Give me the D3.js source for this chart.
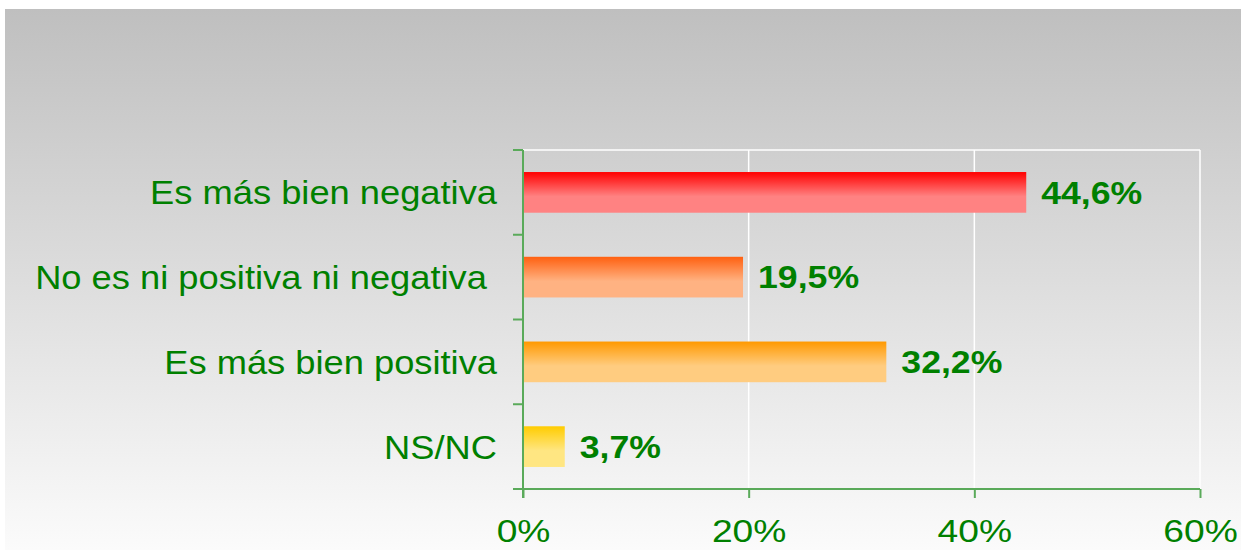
<!DOCTYPE html>
<html>
<head>
	<meta charset="utf-8">
	<title>Valoración</title>
	<script src="https://cdn.jsdelivr.net/npm/d3@7"></script>
	<style>
		body { margin: 0; background: #ffffff; }
		svg text { font-family: Arial, "Liberation Sans", sans-serif; white-space: pre; }
	</style>
</head>
<body>
	<div id="chart"></div>
	<script>

		// data
		const categories = ["Es más bien negativa", "No es ni positiva ni negativa ", "Es más bien positiva", "NS/NC"];
		const values = [44.6, 19.5, 32.2, 3.7];
		const tickValues = [0, 20, 40, 60];
		const topColors = ["#ff0000", "#ff6010", "#ff9900", "#ffcc00"];
		const bottomColors = ["#ff8282", "#ffb282", "#ffcc80", "#ffe682"];

		const width = 1241, height = 550;
		const margin = { top: 150, right: 41, bottom: 61, left: 523 };
		const green = "#008000";
		const axisGreen = "#5aaa5a";

		const svg = d3.select("#chart").append("svg")
			.attr("width", width)
			.attr("height", height);

		const defs = svg.append("defs");
		const bg = defs.append("linearGradient")
			.attr("id", "bg").attr("x1", 0).attr("y1", 0).attr("x2", 0).attr("y2", 1);
		bg.append("stop").attr("offset", "0%").attr("stop-color", "#bfbfbf");
		bg.append("stop").attr("offset", "100%").attr("stop-color", "#fbfbfb");

		topColors.forEach(function(c, i) {
			const g = defs.append("linearGradient")
				.attr("id", "bar" + i).attr("x1", 0).attr("y1", 0).attr("x2", 0).attr("y2", 1);
			g.append("stop").attr("offset", "0%").attr("stop-color", c);
			g.append("stop").attr("offset", "60%").attr("stop-color", bottomColors[i]);
			g.append("stop").attr("offset", "100%").attr("stop-color", bottomColors[i]);
		});

		svg.append("rect")
			.attr("x", 5).attr("y", 9)
			.attr("width", width - 5).attr("height", height - 9)
			.attr("fill", "url(#bg)");

		const x = d3.scaleLinear()
			.domain([0, 60])
			.range([margin.left, width - margin.right]);

		const y = d3.scaleBand()
			.domain(categories)
			.range([margin.top, height - margin.bottom])
			.paddingInner(0.52)
			.paddingOuter(0.26);

		// grid lines and plot border (white)
		svg.append("g")
			.selectAll("line")
			.data(tickValues.slice(1))
			.join("line")
			.attr("x1", d => x(d)).attr("x2", d => x(d))
			.attr("y1", margin.top).attr("y2", height - margin.bottom)
			.attr("stroke", "#ffffff")
			.attr("stroke-width", 1.5);

		svg.append("line")
			.attr("x1", x(0)).attr("x2", x(60))
			.attr("y1", margin.top).attr("y2", margin.top)
			.attr("stroke", "#ffffff")
			.attr("stroke-width", 1.5);

		// bars
		svg.append("g")
			.selectAll("rect")
			.data(values)
			.join("rect")
			.attr("x", x(0) - 1)
			.attr("y", (d, i) => y(categories[i]))
			.attr("width", d => x(d) - x(0) + 1)
			.attr("height", y.bandwidth())
			.attr("fill", (d, i) => "url(#bar" + i + ")");

		// value labels (the original is slightly stretched horizontally)
		svg.append("g")
			.selectAll("text")
			.data(values)
			.join("text")
			.attr("transform", (d, i) => `translate(${x(d) + 15},${y(categories[i]) + y.bandwidth() / 2}) scale(1.15,1)`)
			.attr("dy", "0.36em")
			.attr("fill", green)
			.style("font-size", "31px")
			.style("font-weight", "bold")
			.text(d => d.toFixed(1).replace(".", ",") + "%");

		// y axis
		const step = y.step();
		const yAxis = svg.append("g");
		yAxis.append("line")
			.attr("x1", x(0)).attr("x2", x(0))
			.attr("y1", margin.top).attr("y2", height - margin.bottom + 9)
			.attr("stroke", axisGreen).attr("stroke-width", 2);
		yAxis.selectAll(".tick")
			.data(d3.range(categories.length + 1))
			.join("line")
			.attr("x1", x(0) - 10).attr("x2", x(0))
			.attr("y1", i => margin.top + i * step)
			.attr("y2", i => margin.top + i * step)
			.attr("stroke", axisGreen).attr("stroke-width", 2);
		yAxis.selectAll("text")
			.data(categories)
			.join("text")
			.attr("transform", d => `translate(${margin.left - 26},${y(d) + y.bandwidth() / 2}) scale(1.1,1)`)
			.attr("dy", "0.36em")
			.attr("text-anchor", "end")
			.attr("fill", green)
			.style("font-size", "33px")
			.text(d => d);

		// x axis
		const xAxis = svg.append("g")
			.attr("transform", `translate(0,${height - margin.bottom})`)
			.call(d3.axisBottom(x).tickValues(tickValues).tickSize(9).tickFormat(d => d + "%"));
		xAxis.select(".domain").remove();
		xAxis.append("line")
			.attr("x1", x(0) - 10).attr("x2", x(60))
			.attr("stroke", axisGreen).attr("stroke-width", 2);
		xAxis.selectAll(".tick line").attr("stroke", axisGreen).attr("stroke-width", 2);
		xAxis.selectAll(".tick text")
			.attr("fill", green)
			.attr("y", 31)
			.attr("dy", "0.71em")
			.attr("transform", "scale(1.2,1)")
			.style("font-size", "31px")
			.style("font-family", "Arial, 'Liberation Sans', sans-serif");

	</script>
</body>
</html>
